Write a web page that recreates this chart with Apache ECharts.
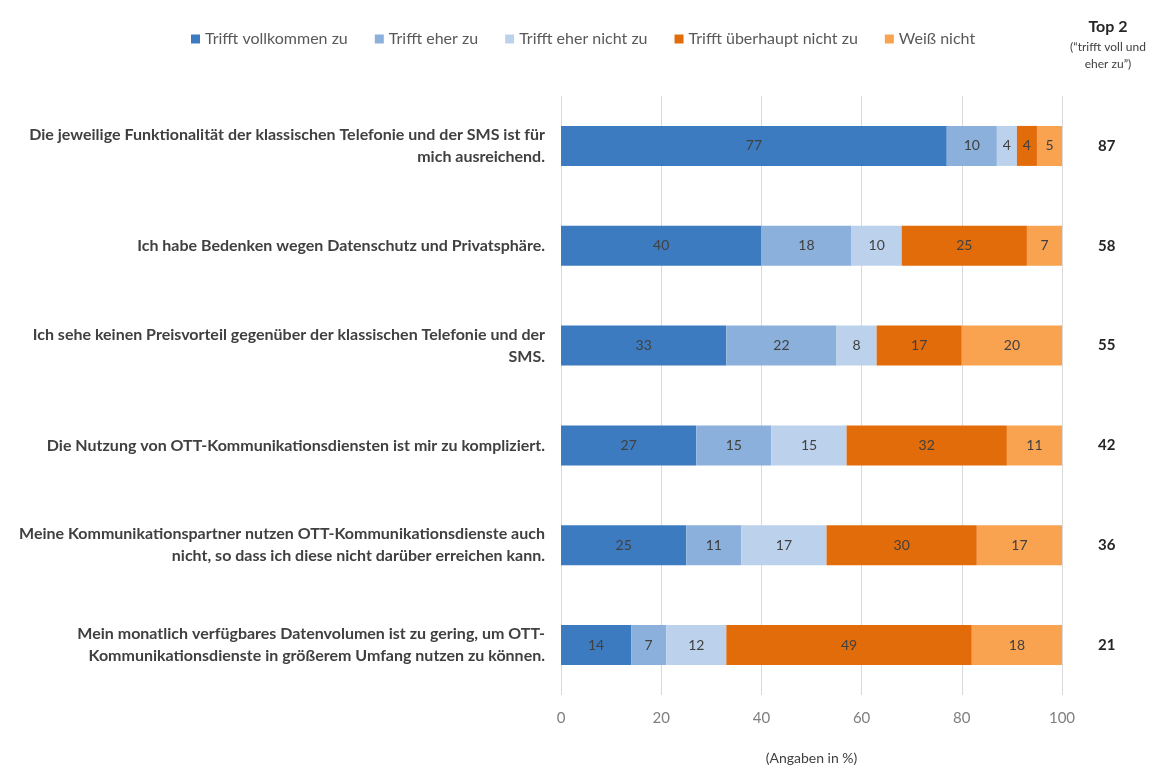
<!DOCTYPE html>
<html><head><meta charset="utf-8">
<script src="https://cdn.jsdelivr.net/npm/echarts@6/dist/echarts.min.js"></script>
<style>html,body{margin:0;padding:0;background:#fff}#c{width:1153px;height:770px}</style>
</head><body><div id="c"></div>
<script>
const categories = [
  "Die jeweilige Funktionalität der klassischen Telefonie und der SMS ist für\nmich ausreichend.",
  "Ich habe Bedenken wegen Datenschutz und Privatsphäre.",
  "Ich sehe keinen Preisvorteil gegenüber der klassischen Telefonie und der\nSMS.",
  "Die Nutzung von OTT-Kommunikationsdiensten ist mir zu kompliziert.",
  "Meine Kommunikationspartner nutzen OTT-Kommunikationsdienste auch\nnicht, so dass ich diese nicht darüber erreichen kann.",
  "Mein monatlich verfügbares Datenvolumen ist zu gering, um OTT-\nKommunikationsdienste in größerem Umfang nutzen zu können."
];
const seriesNames = ["Trifft vollkommen zu","Trifft eher zu","Trifft eher nicht zu","Trifft überhaupt nicht zu","Weiß nicht"];
const vollkommen = [77,40,33,27,25,14];
const eherZu = [10,18,22,15,11,7];
const eherNicht = [4,10,8,15,17,12];
const ueberhauptNicht = [4,25,17,32,30,49];
const weissNicht = [5,7,20,11,17,18];
const top2 = [87,58,55,42,36,21];
const xTicks = [0,20,40,60,80,100];

const colors = ["#3d7bc0","#8bb0dc","#bcd2ec","#e36c0a","#f9a350"];
const values = [vollkommen, eherZu, eherNicht, ueberhauptNicht, weissNicht];
const font = "Lato, 'Open Sans', sans-serif";

const chart = echarts.init(document.getElementById('c'));
chart.setOption({
  animation:false,
  color: colors,
  textStyle:{fontFamily:font},
  legend:{
    top:26, left:186, itemWidth:9, itemHeight:9, itemGap:27, icon:'rect',
    textStyle:{fontSize:16,color:'#595959',fontFamily:font},
    data: seriesNames
  },
  graphic:[
    {type:'text', x:1108, y:19, style:{text:'Top 2', font:'bold 16px '+font, fill:'#262626', align:'center'}},
    {type:'text', x:1108, y:39, style:{text:'(“trifft voll und\neher zu”)', font:'12px '+font, fill:'#404040', lineHeight:17, align:'center'}}
  ],
  grid:{left:561, right:91, top:96, bottom:72},
  xAxis:{
    type:'value', min:0, max:100, interval:20,
    axisLine:{show:false},
    axisTick:{show:false},
    axisLabel:{fontSize:15,color:'#7f7f7f',margin:16, fontFamily:font},
    splitLine:{lineStyle:{color:'#d9d9d9',width:1}},
    name:'(Angaben in %)', nameLocation:'middle', nameGap:56,
    nameTextStyle:{fontSize:14,color:'#404040',fontFamily:font}
  },
  yAxis:[{
    type:'category', inverse:true, data:categories,
    axisLine:{show:false}, axisTick:{show:false},
    axisLabel:{fontSize:16,fontWeight:'bold',color:'#404040',margin:16,align:'right',lineHeight:22, fontFamily:font}
  },{
    type:'category', inverse:true, data:top2, position:'right',
    axisLine:{show:false}, axisTick:{show:false},
    axisLabel:{fontSize:15,fontWeight:'bold',color:'#262626',margin:36, fontFamily:font}
  }],
  series: seriesNames.map((n,i)=>({
    name:n, type:'bar', stack:'a', data:values[i], barWidth:40,
    itemStyle:{color:colors[i]},
    label:{show:true, position:'inside', color:'#404040', fontSize:14, fontFamily:font}
  }))
});
</script></body></html>
